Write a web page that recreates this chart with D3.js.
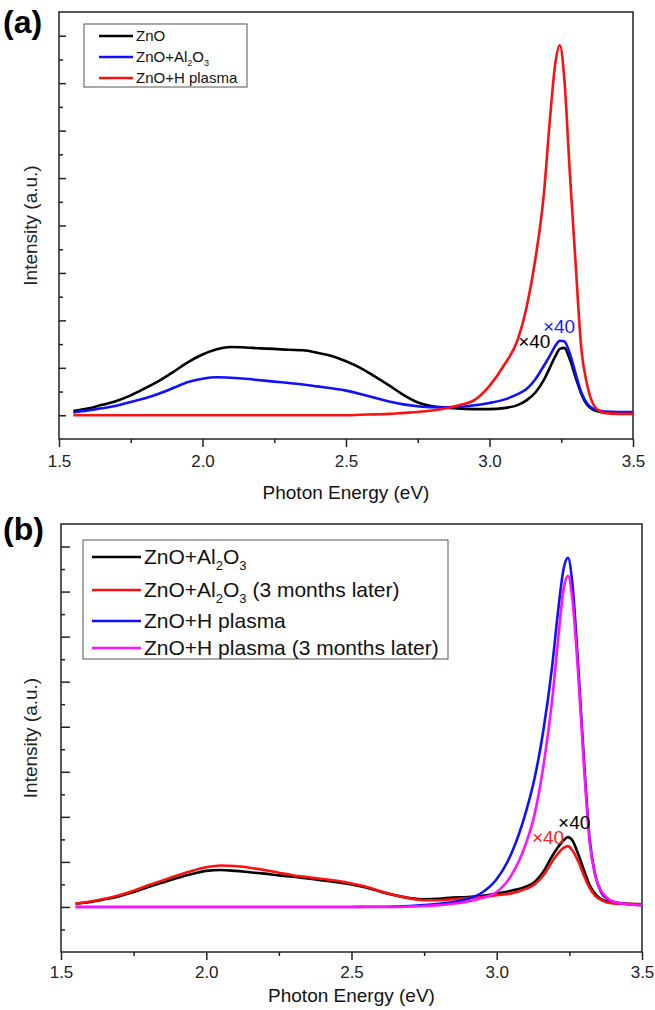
<!DOCTYPE html>
<html>
<head>
<meta charset="utf-8">
<script src="https://cdn.jsdelivr.net/npm/d3@7"></script>
<style>
  body { margin: 0; background: #fff; }
  text { font-family: Arial, "Liberation Sans", sans-serif; white-space: pre; }
</style>
</head>
<body>
<svg id="chart" width="655" height="1010"></svg>
<script>

// photon energy grid (eV), shared by every curve
const energy = [1.55, 1.60, 1.65, 1.70, 1.75, 1.80, 1.85, 1.90, 1.95, 2.00,
  2.05, 2.10, 2.15, 2.20, 2.25, 2.30, 2.35, 2.40, 2.45, 2.50,
  2.55, 2.60, 2.65, 2.70, 2.75, 2.80, 2.85, 2.90, 2.95, 3.00,
  3.05, 3.10, 3.13, 3.16, 3.19, 3.21, 3.23, 3.245, 3.26, 3.28,
  3.30, 3.32, 3.34, 3.36, 3.38, 3.40, 3.45, 3.50]

// panel (a)
const znoA = [0.09, 0.14, 0.22, 0.30, 0.42, 0.57, 0.73, 0.92, 1.12, 1.28,
  1.39, 1.44, 1.43, 1.41, 1.40, 1.38, 1.37, 1.32, 1.25, 1.14,
  1.00, 0.82, 0.63, 0.43, 0.27, 0.19, 0.16, 0.14, 0.13, 0.13,
  0.15, 0.22, 0.32, 0.48, 0.75, 1.00, 1.25, 1.40, 1.42, 1.18,
  0.80, 0.45, 0.22, 0.12, 0.08, 0.06, 0.05, 0.05]
const alA = [0.06, 0.10, 0.15, 0.20, 0.28, 0.36, 0.46, 0.58, 0.70, 0.77,
  0.80, 0.79, 0.77, 0.74, 0.71, 0.68, 0.65, 0.61, 0.57, 0.52,
  0.45, 0.37, 0.29, 0.23, 0.19, 0.17, 0.17, 0.18, 0.21, 0.26,
  0.33, 0.45, 0.56, 0.76, 1.05, 1.25, 1.47, 1.57, 1.56, 1.30,
  0.88, 0.48, 0.25, 0.14, 0.10, 0.08, 0.07, 0.07]
const plasmaA = [0, 0, 0, 0, 0, 0, 0, 0, 0, 0,
  0, 0, 0, 0, 0, 0, 0, 0, 0, 0,
  0.01, 0.02, 0.03, 0.05, 0.07, 0.10, 0.15, 0.22, 0.33, 0.62,
  1.05, 1.62, 2.30, 3.30, 4.70, 6.20, 7.45, 7.80, 7.15, 5.10,
  3.20, 1.40, 0.65, 0.25, 0.10, 0.05, 0.03, 0.03]

// panel (b)
const alB = [0.07, 0.11, 0.17, 0.24, 0.33, 0.44, 0.54, 0.64, 0.73, 0.80,
  0.82, 0.80, 0.77, 0.74, 0.70, 0.67, 0.63, 0.59, 0.55, 0.50,
  0.43, 0.34, 0.26, 0.20, 0.17, 0.18, 0.21, 0.22, 0.25, 0.30,
  0.36, 0.45, 0.55, 0.78, 1.12, 1.32, 1.48, 1.55, 1.48, 1.18,
  0.82, 0.48, 0.28, 0.17, 0.12, 0.10, 0.07, 0.06]
const alLaterB = [0.07, 0.12, 0.18, 0.26, 0.36, 0.48, 0.59, 0.70, 0.80, 0.88,
  0.92, 0.91, 0.87, 0.82, 0.76, 0.70, 0.66, 0.62, 0.58, 0.52,
  0.45, 0.35, 0.26, 0.19, 0.15, 0.15, 0.17, 0.20, 0.22, 0.26,
  0.30, 0.40, 0.50, 0.70, 1.00, 1.18, 1.31, 1.35, 1.26, 1.02,
  0.70, 0.42, 0.24, 0.15, 0.10, 0.08, 0.07, 0.06]
const plasmaB = [0, 0, 0, 0, 0, 0, 0, 0, 0, 0,
  0, 0, 0, 0, 0, 0, 0, 0, 0, 0,
  0.005, 0.005, 0.01, 0.02, 0.04, 0.07, 0.11, 0.18, 0.32, 0.62,
  1.18, 2.10, 2.85, 3.90, 5.30, 6.50, 7.50, 7.75, 7.20, 5.40,
  3.30, 1.50, 0.68, 0.32, 0.18, 0.12, 0.06, 0.04]
const plasmaLaterB = [0, 0, 0, 0, 0, 0, 0, 0, 0, 0,
  0, 0, 0, 0, 0, 0, 0, 0, 0, 0,
  0, 0, 0, 0.01, 0.02, 0.04, 0.07, 0.12, 0.20, 0.33,
  0.70, 1.40, 2.05, 3.10, 4.55, 5.85, 7.05, 7.35, 6.85, 5.20,
  3.15, 1.42, 0.68, 0.35, 0.20, 0.12, 0.06, 0.04]

const labelsA = ["ZnO", "ZnO+Al_2O_3", "ZnO+H plasma"]
const labelsB = ["ZnO+Al_2O_3", "ZnO+Al_2O_3 (3 months later)", "ZnO+H plasma", "ZnO+H plasma (3 months later)"]
const xTicks = [1.5, 2.0, 2.5, 3.0, 3.5]
const xMinorTicks = [1.75, 2.25, 2.75, 3.25]

const svg = d3.select("#chart")

function writeLabel(sel, label, subSize, shift) {
  label.split(/_(\d)/).forEach((part, i) => {
    if (!part) return
    const sub = i % 2 === 1
    sel.append("tspan")
    .attr("font-size", sub ? subSize : null)
    .attr("dy", sub ? shift : (i > 0 ? -shift : 0))
    .text(part)
  })
}

function drawPanel(p) {

  const x = d3.scaleLinear()
  .domain([1.5, 3.5])
  .range([p.left, p.right])

  const y = d3.scaleLinear()
  .domain(p.yDomain)
  .range([p.bottom, p.top])

  const g = svg.append("g")

  // bottom axis, ticks pointing out
  g.append("g")
  .attr("transform", `translate(0,${p.bottom})`)
  .call(d3.axisBottom(x).tickValues(xTicks).tickSize(8).tickFormat(d3.format(".1f")))
  .call(a => a.select(".domain").remove())
  .call(a => a.selectAll("text")
    .attr("font-size", 17)
    .attr("font-family", "Arial, 'Liberation Sans', sans-serif")
    .attr("fill", "#222")
    .attr("dy", p.tickDy))
  .call(a => a.selectAll("line").attr("stroke", "#222").attr("stroke-width", 1.5))

  g.append("g")
  .attr("transform", `translate(0,${p.bottom})`)
  .call(d3.axisBottom(x).tickValues(xMinorTicks).tickSize(4).tickFormat(""))
  .call(a => a.select(".domain").remove())
  .call(a => a.selectAll("line").attr("stroke", "#222").attr("stroke-width", 1.5))

  // left axis, ticks pointing in
  g.append("g")
  .attr("transform", `translate(${p.left},0)`)
  .call(d3.axisRight(y).tickValues(d3.range(0, 8.01, 1)).tickSize(p.majorLen).tickFormat(""))
  .call(a => a.select(".domain").remove())
  .call(a => a.selectAll("line").attr("stroke", "#222").attr("stroke-width", 1.5))

  g.append("g")
  .attr("transform", `translate(${p.left},0)`)
  .call(d3.axisRight(y).tickValues(p.minorY).tickSize(4).tickFormat(""))
  .call(a => a.select(".domain").remove())
  .call(a => a.selectAll("line").attr("stroke", "#222").attr("stroke-width", 1.5))

  // frame
  g.append("rect")
  .attr("x", p.left)
  .attr("y", p.top)
  .attr("width", p.right - p.left)
  .attr("height", p.bottom - p.top)
  .attr("fill", "none")
  .attr("stroke", "#222")
  .attr("stroke-width", 1.5)

  const line = d3.line()
  .x((d, i) => x(energy[i]))
  .y(d => y(d))
  .curve(d3.curveMonotoneX)

  for (const s of p.series) {
    g.append("path")
    .attr("d", line(s.values))
    .attr("fill", "none")
    .attr("stroke", s.color)
    .attr("stroke-width", 2.6)
    .attr("stroke-linejoin", "round")
  }

  for (const n of p.notes) {
    g.append("text")
    .attr("x", x(n.e))
    .attr("y", y(n.v))
    .attr("font-size", 19)
    .attr("fill", n.color)
    .text("×40")
  }

  // legend
  const lg = p.legend
  g.append("rect")
  .attr("x", lg.x)
  .attr("y", lg.y)
  .attr("width", lg.w)
  .attr("height", lg.h)
  .attr("fill", "#fff")
  .attr("stroke", "#555")
  .attr("stroke-width", 1)

  p.series.forEach((s, i) => {
    const ry = lg.rows[i]
    g.append("line")
    .attr("x1", lg.x + lg.pad)
    .attr("x2", lg.x + lg.pad + lg.lineLen)
    .attr("y1", ry)
    .attr("y2", ry)
    .attr("stroke", s.color)
    .attr("stroke-width", 2.6)

    const t = g.append("text")
    .attr("x", lg.x + lg.pad + lg.lineLen + 3)
    .attr("y", ry + lg.fontSize * 0.35)
    .attr("font-size", lg.fontSize)
    .attr("fill", "#111")
    writeLabel(t, s.label, lg.subSize, lg.shift)
  })

  // axis titles
  g.append("text")
  .attr("x", (p.left + p.right) / 2)
  .attr("y", p.bottom + p.titleGap)
  .attr("text-anchor", "middle")
  .attr("font-size", 19)
  .attr("fill", "#111")
  .text("Photon Energy (eV)")

  g.append("text")
  .attr("transform", `translate(37,${(p.top + p.bottom) / 2}) rotate(-90)`)
  .attr("text-anchor", "middle")
  .attr("font-size", 19)
  .attr("fill", "#222")
  .text("Intensity (a.u.)")

  g.append("text")
  .attr("x", 3)
  .attr("y", p.tagY)
  .attr("font-size", 32)
  .attr("font-weight", "bold")
  .attr("fill", "#000")
  .text(p.tag)
}

drawPanel({
  tag: "(a)", tagY: 33, titleGap: 60, tickDy: "1.0em",
  left: 59, right: 633, top: 12, bottom: 439,
  yDomain: [-0.5, 8.5], majorLen: 7,
  minorY: d3.range(0.5, 8, 1),
  series: [
    {label: labelsA[0], values: znoA, color: "#000000"},
    {label: labelsA[1], values: alA, color: "#1010ff"},
    {label: labelsA[2], values: plasmaA, color: "#ff1010"}
  ],
  notes: [
    {e: 3.10, v: 1.42, color: "#000000"},
    {e: 3.186, v: 1.74, color: "#2020ff"}
  ],
  legend: {x: 84, y: 24, w: 163, h: 63, pad: 15, lineLen: 34, rows: [36, 57, 78],
    fontSize: 15, subSize: 9, shift: 4}
})

drawPanel({
  tag: "(b)", tagY: 540, titleGap: 50, tickDy: "0.9em",
  left: 61, right: 642, top: 524, bottom: 952,
  yDomain: [-1, 8.5], majorLen: 9,
  minorY: d3.range(-0.5, 8, 1),
  series: [
    {label: labelsB[0], values: alB, color: "#000000"},
    {label: labelsB[1], values: alLaterB, color: "#ff1010"},
    {label: labelsB[2], values: plasmaB, color: "#1010ff"},
    {label: labelsB[3], values: plasmaLaterB, color: "#ff10ff"}
  ],
  notes: [
    {e: 3.211, v: 1.73, color: "#000000"},
    {e: 3.121, v: 1.39, color: "#ff2020"}
  ],
  legend: {x: 83, y: 540, w: 365, h: 119, pad: 9, lineLen: 49, rows: [557, 590, 621, 648],
    fontSize: 21, subSize: 13, shift: 6}
})

</script>
</body>
</html>
